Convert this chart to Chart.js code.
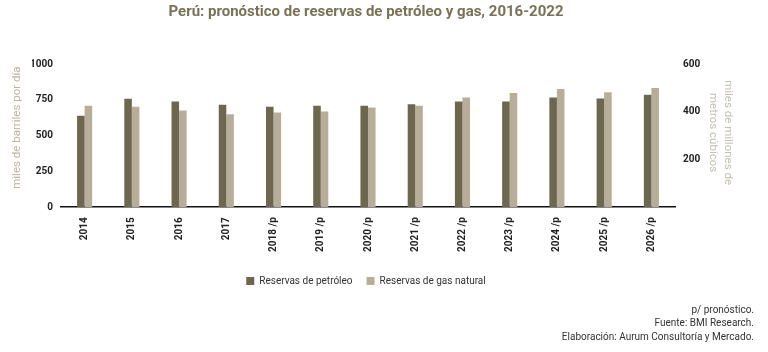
<!DOCTYPE html>
<html>
<head>
<meta charset="utf-8">
<script src="https://cdn.jsdelivr.net/npm/chart.js@4.4.1/dist/chart.umd.min.js"></script>
<style>
  html, body { margin: 0; padding: 0; background: #fff; }
  #wrap { width: 768px; height: 352px; position: relative; }
</style>
</head>
<body>
<div id="wrap"><canvas id="reservasChart"></canvas></div>
<script>
// Categories (years, /p = pronóstico)
const years = ['2014', '2015', '2016', '2017', '2018 /p', '2019 /p', '2020 /p',
               '2021 /p', '2022 /p', '2023 /p', '2024 /p', '2025 /p', '2026 /p'];

// Reservas de petróleo (miles de barriles por día) - left axis
const petroleo = [638, 757, 738, 716, 702, 709, 709, 719, 738, 738, 766, 759, 785];

// Reservas de gas natural (miles de millones de metros cúbicos) - right axis
const gasNatural = [425, 421, 405, 390, 397, 401, 418, 425, 460, 479, 495, 482, 499];

// Axis titles and footnote lines
const leftTitle = 'miles de barriles por día';
const rightTitle = ['miles de millones de', 'metros cúbicos'];
const notas = ['p/ pronóstico.', 'Fuente: BMI Research.', 'Elaboración: Aurum Consultoría y Mercado.'];

const fontFamily = 'Roboto, "DejaVu Sans", sans-serif';

// Draws the rotated axis titles and the source notes
const extrasPlugin = {
  id: 'extras',
  afterDraw(chart) {
    const ctx = chart.ctx;
    const midY = (chart.chartArea.top + chart.chartArea.bottom) / 2;
    ctx.save();
    ctx.textAlign = 'center';
    ctx.textBaseline = 'middle';
    ctx.font = '11.5px ' + fontFamily;

    // left axis title, reads bottom to top
    ctx.save();
    ctx.translate(17, midY - 8);
    ctx.rotate(-Math.PI / 2);
    ctx.fillStyle = '#bfb49e';
    ctx.fillText(leftTitle, 0, 0);
    ctx.restore();

    // right axis title, reads top to bottom, first line on the right
    ctx.fillStyle = '#c5bfb3';
    [728, 713].forEach((x, i) => {
      ctx.save();
      ctx.translate(x, midY - 3);
      ctx.rotate(Math.PI / 2);
      ctx.fillText(rightTitle[i], 0, 0);
      ctx.restore();
    });

    // footnote
    ctx.font = '10px ' + fontFamily;
    ctx.fillStyle = '#333';
    ctx.textAlign = 'right';
    notas.forEach((line, i) => {
      ctx.fillText(line, 754, 310 + i * 13.5);
    });
    ctx.restore();
  }
};

function createReservasChart() {
  const ctx = document.getElementById('reservasChart').getContext('2d');

  new Chart(ctx, {
    type: 'bar',
    data: {
      labels: years,
      datasets: [{
        label: 'Reservas de petróleo',
        data: petroleo,
        backgroundColor: '#6e6750',
        yAxisID: 'y',
        categoryPercentage: 0.32,
        barPercentage: 1.0
      }, {
        label: 'Reservas de gas natural',
        data: gasNatural,
        backgroundColor: '#b7ad99',
        yAxisID: 'y2',
        categoryPercentage: 0.32,
        barPercentage: 1.0
      }]
    },
    options: {
      responsive: false,
      animation: false,
      layout: {
        padding: { left: 32, right: 68, bottom: 56 }
      },
      plugins: {
        title: {
          display: true,
          text: 'Perú: pronóstico de reservas de petróleo y gas, 2016-2022',
          color: '#7a7256',
          font: { family: fontFamily, size: 15, weight: 'bold' },
          padding: { top: 3, bottom: 43 }
        },
        legend: {
          position: 'bottom',
          labels: {
            color: '#333',
            boxWidth: 8,
            boxHeight: 8,
            padding: 14,
            font: { family: fontFamily, size: 10 }
          }
        },
        tooltip: { enabled: false }
      },
      scales: {
        x: {
          grid: { display: false, drawTicks: false },
          border: { display: true, color: '#111', width: 1.5 },
          ticks: {
            color: '#222',
            minRotation: 90,
            maxRotation: 90,
            padding: 10,
            font: { family: fontFamily, size: 10, weight: 'bold' }
          }
        },
        y: {
          position: 'left',
          min: 0,
          max: 1000,
          afterFit: scale => { scale.width = 29; },
          grid: { display: false, drawTicks: false },
          border: { display: false },
          ticks: {
            stepSize: 250,
            color: '#222',
            padding: 8,
            font: { family: fontFamily, size: 10, weight: 'bold' },
            callback: value => String(value)
          }
        },
        y2: {
          position: 'right',
          min: 0,
          max: 600,
          afterFit: scale => { scale.width = 25; },
          grid: { display: false, drawTicks: false },
          border: { display: false },
          ticks: {
            stepSize: 200,
            color: '#222',
            padding: 8,
            font: { family: fontFamily, size: 10, weight: 'bold' },
            callback: value => (value === 0 ? '' : String(value))
          }
        }
      }
    },
    plugins: [extrasPlugin]
  });
}

document.addEventListener('DOMContentLoaded', () => {
  const canvas = document.getElementById('reservasChart');
  canvas.width = 768;
  canvas.height = 352;
  createReservasChart();
});
</script>
</body>
</html>
